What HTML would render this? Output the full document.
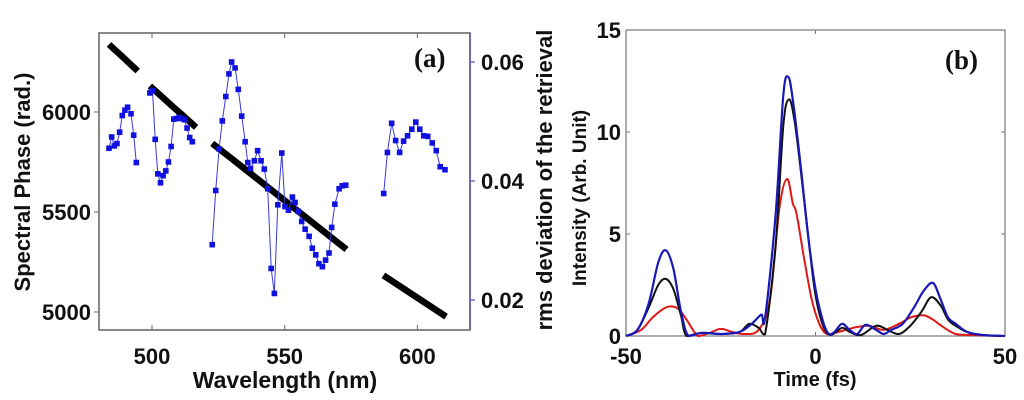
<!DOCTYPE html>
<html><head><meta charset="utf-8"><style>
html,body{margin:0;padding:0;background:#fff;}
svg{display:block;font-family:"Liberation Sans",Arial,sans-serif;font-weight:bold;}
</style></head><body>
<svg id="fig" width="1024" height="400" viewBox="0 0 1024 400" xmlns="http://www.w3.org/2000/svg">
<g id="pa"></g>
<g id="pb"></g>
</svg>
<script>
// ---------- Panel (a) data ----------
const aXTicks = [500, 550, 600];
const aLeftTicks = [5000, 5500, 6000];
const aRightTicks = [0.02, 0.04, 0.06];
const aRightTickLabels = ["0.02", "0.04", "0.06"];
// black spectral phase segments (wavelength nm, phase rad)
const phaseSegX = [
  [483.8, 486, 488, 490, 492, 494.6],
  [499.2, 502, 505, 508, 511, 514, 516.6],
  [522.7, 530, 540, 550, 560, 573.3],
  [587.2, 595, 603, 610.8]
];
const phaseSegY = [
  [6338, 6311, 6287, 6262, 6237, 6205],
  [6130, 6097, 6061, 6025, 5990, 5954, 5923],
  [5843, 5767, 5662, 5557, 5452, 5313],
  [5183, 5115, 5045, 4977]
];
// blue rms deviation segments
const rmsSegX = [
  [483.8, 484.8, 485.8, 486.8, 487.8, 488.8, 489.8, 490.8, 492.1, 493.1, 494.1],
  [499.2, 500.2, 501.2, 502.2, 503.2, 504.2, 505.2, 506.2, 507.2, 508.2, 509.2, 510.2, 511.2, 512.2, 513.2, 514.2, 515.2],
  [522.7, 524.0, 525.3, 526.5, 527.8, 529.0, 530.0, 531.3, 532.5, 533.8, 535.1, 536.1, 537.1, 538.6, 539.8, 541.1, 542.3, 543.6, 544.9, 546.1, 547.4, 548.9, 550.1, 551.4, 552.9, 553.9, 555.1, 556.4, 557.7, 559.2, 560.4, 561.7, 562.9, 564.2, 565.4, 566.7, 567.7, 568.9, 570.5, 571.7, 573.0],
  [587.3, 588.7, 590.3, 591.8, 593.3, 594.8, 596.3, 597.9, 599.4, 600.9, 602.4, 603.9, 605.6, 607.1, 608.6, 610.4]
];
const rmsSegY = [
  [0.0455, 0.0474, 0.0459, 0.0463, 0.0482, 0.0510, 0.0519, 0.0524, 0.0513, 0.0477, 0.0431],
  [0.0548, 0.0552, 0.0470, 0.0412, 0.0397, 0.0409, 0.0417, 0.0432, 0.0458, 0.0504, 0.0505, 0.0507, 0.0505, 0.0503, 0.0489, 0.0473, 0.0466],
  [0.0293, 0.0384, 0.0454, 0.0501, 0.0542, 0.0580, 0.0600, 0.0590, 0.0554, 0.0509, 0.0466, 0.0431, 0.0421, 0.0434, 0.0451, 0.0434, 0.0420, 0.0387, 0.0253, 0.0211, 0.0360, 0.0447, 0.0357, 0.0351, 0.0373, 0.0364, 0.0349, 0.0332, 0.0319, 0.0307, 0.0287, 0.0276, 0.0261, 0.0256, 0.0267, 0.0279, 0.0322, 0.0361, 0.0387, 0.0392, 0.0393],
  [0.0379, 0.0448, 0.0497, 0.0468, 0.0448, 0.0467, 0.0476, 0.0487, 0.0499, 0.0487, 0.0476, 0.0475, 0.0464, 0.0451, 0.0424, 0.0419]
];
// ---------- Panel (b) data ----------
const bXTicks = [-50, 0, 50];
const bYTicks = [0, 5, 10, 15];
const blueT = [-50,-47,-44,-41.5,-39.5,-37.5,-35.5,-33.5,-30,-25,-20,-16.8,-14.3,-13.3,-10.5,-8.5,-7.2,-6,-4,-2,0,2,3.5,5,7,9,11,13.2,16,18,20,23,26,28.5,31,33,35,37,40,44,50];
const blueV = [0,0.3,1.6,3.6,4.2,3.3,1.2,0,0.15,0.1,0.2,0.6,1.05,0.9,6,11.8,12.7,11.6,8.5,5,2.3,0.7,0.1,0.2,0.6,0.3,0.1,0.55,0.3,0.1,0.3,0.6,1.4,2.2,2.6,1.8,0.9,0.6,0.2,0.05,0];
const blackT = [-50,-47,-44,-41.5,-39.5,-37.5,-35.5,-34,-30,-25,-20,-17.5,-15,-13.3,-10.5,-8.5,-7,-5.5,-3.5,-1.5,0,2,4,7,9,12,16,19,22,25,28,30.5,33,35,37,40,44,50];
const blackV = [0,0.3,1.4,2.5,2.8,2.3,1,0,0.15,0.1,0.2,0.6,0.4,0.1,4.5,10.3,11.6,10.5,7.5,4.2,2,0.5,0.05,0.4,0.2,0.05,0.5,0.3,0.1,0.5,1.2,1.9,1.5,0.8,0.5,0.2,0.05,0];
const redT = [-50,-46,-43,-40,-38,-36,-34,-31,-28,-25,-22,-19,-15,-12,-9.5,-7.5,-6,-5,-3,-1,1,3,6,10,14,18,22,25,27,29,31,34,37,41,50];
const redV = [0,0.3,0.9,1.35,1.45,1.3,0.8,0,0.15,0.35,0.2,0.1,0.3,1.8,6.3,7.7,6.5,6,3.8,1.8,0.6,0.1,0.2,0.4,0.5,0.3,0.6,0.9,1.0,1.0,0.8,0.4,0.1,0.05,0];

const NS = "http://www.w3.org/2000/svg";
function mk(parent, tag, attrs, text){
  const e = document.createElementNS(NS, tag);
  for (const k in attrs) e.setAttribute(k, attrs[k]);
  if (text !== undefined) e.textContent = text;
  parent.appendChild(e);
  return e;
}

// ---------- Panel (a) ----------
const pa = document.getElementById('pa');
const aL = 99, aR = 470, aT = 33, aB = 330;
const ax = v => 152 + (v - 500) * (132.7 / 50);
const ayL = v => 112 + (6000 - v) * (100 / 500);
const ayR = v => 62 + (0.06 - v) * (119 / 0.02);

let fr = mk(pa, 'rect', {x:aL, y:aT, width:aR-aL, height:aB-aT, fill:'none', stroke:'#555', 'stroke-width':1.4});


let rax = mk(pa, 'line', {x1:aR, y1:aT, x2:aR, y2:aB, stroke:'#5555aa', 'stroke-width':1.5});



aXTicks.forEach(v => {
  const x = ax(v);
  let t = mk(pa, 'line', {x1:x, y1:aB, x2:x, y2:aB-5, stroke:'#666', 'stroke-width':1});
  
  
  let t2 = mk(pa, 'line', {x1:x, y1:aT, x2:x, y2:aT+5, stroke:'#666', 'stroke-width':1});
  
  
  let l = mk(pa, 'text', {x:x, y:364, 'font-size':22, 'text-anchor':'middle', fill:'#111'}, String(v));
  
  
});
aLeftTicks.forEach(v => {
  const y = ayL(v);
  let t = mk(pa, 'line', {x1:aL, y1:y, x2:aL-5, y2:y, stroke:'#666', 'stroke-width':1});
  
  
  let l = mk(pa, 'text', {x:91, y:y+8, 'font-size':22, 'text-anchor':'end', fill:'#111'}, String(v));
  
  
});
aRightTicks.forEach((v, i) => {
  const y = ayR(v);
  let t = mk(pa, 'line', {x1:aR, y1:y, x2:aR+5, y2:y, stroke:'#5555aa', 'stroke-width':1.2});
  
  
  let l = mk(pa, 'text', {x:481, y:y+8, 'font-size':22, fill:'#111'}, aRightTickLabels[i]);
  
  
});
let xt = mk(pa, 'text', {x:285, y:388, 'font-size':23, 'text-anchor':'middle', fill:'#111'}, 'Wavelength (nm)');


let ylt = mk(pa, 'text', {x:0, y:0, 'font-size':22, 'text-anchor':'middle', fill:'#111', transform:'translate(30,182) rotate(-90)'}, 'Spectral Phase (rad.)');


let yrt = mk(pa, 'text', {x:0, y:0, 'font-size':22, 'text-anchor':'middle', fill:'#111', transform:'translate(552,180) rotate(-90)'}, 'rms deviation of the retrieval');


let lab = mk(pa, 'text', {x:414, y:67, 'font-size':27, fill:'#111', 'font-family':'"Liberation Serif",serif'}, '(a)');



phaseSegX.forEach((xs, si) => {
  const pts = xs.map((x, i) => ax(x).toFixed(1) + ',' + ayL(phaseSegY[si][i]).toFixed(1)).join(' ');
  let p = mk(pa, 'polyline', {points:pts, fill:'none', stroke:'#000', 'stroke-width':6.5});
  
  
});
rmsSegX.forEach((xs, si) => {
  const pts = xs.map((x, i) => ax(x).toFixed(1) + ',' + ayR(rmsSegY[si][i]).toFixed(1)).join(' ');
  let p = mk(pa, 'polyline', {points:pts, fill:'none', stroke:'#3a3ad8', 'stroke-width':1});
  
  
  xs.forEach((x, i) => {
    let r = mk(pa, 'rect', {x:ax(x)-2.8, y:ayR(rmsSegY[si][i])-2.8, width:5.6, height:5.6, fill:'#1010e0'});
    
    
  });
});

// ---------- Panel (b) ----------
const pb = document.getElementById('pb');
const bL = 626, bR = 1005, bT = 30, bB = 336;
const bx = v => bL + (v + 50) * ((bR - bL) / 100);
const by = v => bB - v * ((bB - bT) / 15);

let fb = mk(pb, 'rect', {x:bL, y:bT, width:bR-bL, height:bB-bT, fill:'none', stroke:'#777', 'stroke-width':1.2});


bXTicks.forEach(v => {
  const x = bx(v);
  let t = mk(pb, 'line', {x1:x, y1:bB, x2:x, y2:bB-4, stroke:'#777'});
  
  
  let t2 = mk(pb, 'line', {x1:x, y1:bT, x2:x, y2:bT+4, stroke:'#777'});
  
  
  let l = mk(pb, 'text', {x:x, y:364, 'font-size':22, 'text-anchor':'middle', fill:'#111'}, String(v));
  
  
});
bYTicks.forEach(v => {
  const y = by(v);
  let t = mk(pb, 'line', {x1:bL, y1:y, x2:bL+4, y2:y, stroke:'#777'});
  
  
  let t2 = mk(pb, 'line', {x1:bR, y1:y, x2:bR-4, y2:y, stroke:'#777'});
  
  
  let l = mk(pb, 'text', {x:621, y:y+8, 'font-size':22, 'text-anchor':'end', fill:'#111'}, String(v));
  
  
});
let bxt = mk(pb, 'text', {x:815, y:386, 'font-size':20, 'text-anchor':'middle', fill:'#111'}, 'Time (fs)');


let byt = mk(pb, 'text', {x:0, y:0, 'font-size':19, 'text-anchor':'middle', fill:'#111', transform:'translate(586,198) rotate(-90)'}, 'Intensity (Arb. Unit)');


let labb = mk(pb, 'text', {x:945, y:69, 'font-size':27, fill:'#111', 'font-family':'"Liberation Serif",serif'}, '(b)');



function smoothPath(ts, vs){
  const P = ts.map((t, i) => [bx(t), by(vs[i])]);
  let d = 'M' + P[0][0].toFixed(1) + ',' + P[0][1].toFixed(1);
  for (let i = 0; i < P.length - 1; i++){
    const p0 = P[Math.max(0, i-1)], p1 = P[i], p2 = P[i+1], p3 = P[Math.min(P.length-1, i+2)];
    let c1 = [p1[0] + (p2[0]-p0[0])/6, p1[1] + (p2[1]-p0[1])/6];
    let c2 = [p2[0] - (p3[0]-p1[0])/6, p2[1] - (p3[1]-p1[1])/6];
    c1[1] = Math.min(c1[1], bB); c2[1] = Math.min(c2[1], bB);
    d += ' C' + c1.map(n=>n.toFixed(1)).join(',') + ' ' + c2.map(n=>n.toFixed(1)).join(',') + ' ' + p2.map(n=>n.toFixed(1)).join(',');
  }
  return d;
}
let rp = mk(pb, 'path', {d:smoothPath(redT, redV), fill:'none', stroke:'#e01818', 'stroke-width':2});


let kp = mk(pb, 'path', {d:smoothPath(blackT, blackV), fill:'none', stroke:'#111', 'stroke-width':2});


let bp = mk(pb, 'path', {d:smoothPath(blueT, blueV), fill:'none', stroke:'#1818b8', 'stroke-width':2.2});


</script>
</body></html>
